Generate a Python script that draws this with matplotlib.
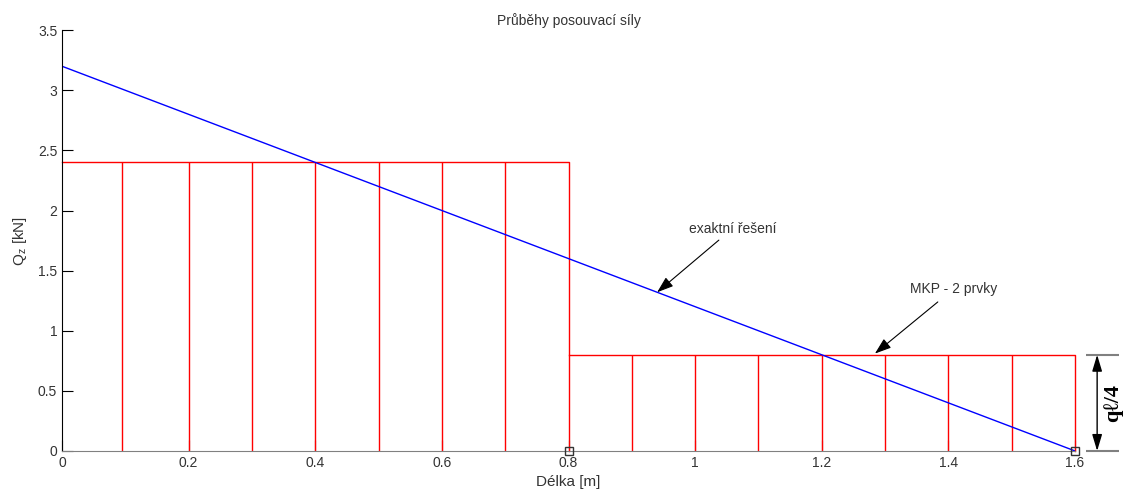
import matplotlib.pyplot as plt
import numpy as np

plt.rcParams['font.family'] = ['Liberation Sans', 'DejaVu Sans']

# exact shear force along the beam
x_exact = [0.0, 1.6]
q_exact = [3.2, 0.0]

# FEM solution, 2 elements, constant shear in each
elem_start = [0.0, 0.8]
elem_end = [0.8, 1.6]
elem_q = [2.4, 0.8]
hatch_x = [[0.095, 0.2, 0.3, 0.4, 0.5, 0.6, 0.7],
           [0.9, 1.0, 1.1, 1.2, 1.3, 1.4, 1.5]]
nodes_x = [0.8, 1.6]

fig = plt.figure(figsize=(11.28, 4.95), dpi=100)
ax = fig.add_axes([0.055, 0.089, 0.898, 0.850])

red = '#ff0000'
for a, b, q, hx in zip(elem_start, elem_end, elem_q, hatch_x):
    ax.plot([a, b, b], [q, q, 0], color=red, lw=1, clip_on=False)
    ax.vlines(hx, 0, q, color=red, lw=1)

ax.plot(x_exact, q_exact, color='#0000ff', lw=1)
ax.plot(nodes_x, [0] * len(nodes_x), 's', mfc='none', mec='#333333', ms=6,
        clip_on=False, zorder=5)

ax.set_xlim(0, 1.6)
ax.set_ylim(0, 3.5)
ax.set_xticks(np.arange(0, 1.61, 0.2))
ax.set_xticklabels(['0', '0.2', '0.4', '0.6', '0.8', '1', '1.2', '1.4', '1.6'])
ax.set_yticks(np.arange(0, 3.51, 0.5))
ax.set_yticklabels(['0', '0.5', '1', '1.5', '2', '2.5', '3', '3.5'])
ax.tick_params(direction='in', length=8, labelsize=10, labelcolor='#333333')
ax.spines['top'].set_visible(False)
ax.spines['right'].set_visible(False)
ax.spines['bottom'].set_color('#808080')

ax.set_title('Průběhy posouvací síly', fontsize=10, color='#333333', pad=4)
ax.set_xlabel('Délka [m]', fontsize=11, color='#333333', labelpad=4)
ax.set_ylabel('Q$_\\mathregular{z}$ [kN]', fontsize=11, color='#333333', labelpad=6)

ax.annotate('exaktní řešení', xy=(0.94, 1.32), xytext=(0.99, 1.85),
            fontsize=10, color='#333333', va='center',
            arrowprops=dict(arrowstyle='-|>,head_length=1.0,head_width=0.35',
                            color='black', lw=0.8, shrinkA=2, shrinkB=0))
ax.annotate('MKP - 2 prvky', xy=(1.284, 0.81), xytext=(1.34, 1.35),
            fontsize=10, color='#333333', va='center',
            arrowprops=dict(arrowstyle='-|>,head_length=1.0,head_width=0.35',
                            color='black', lw=0.8, shrinkA=4, shrinkB=0))

# dimension of the second element's value on the right
ax.hlines([elem_q[1], 0], 1.617, 1.67, color='#808080', lw=1.5, clip_on=False)
ax.annotate('', xy=(1.635, elem_q[1]), xytext=(1.635, 0),
            arrowprops=dict(arrowstyle='<|-|>,head_length=1.0,head_width=0.3',
                            color='black', lw=1, shrinkA=0, shrinkB=0),
            annotation_clip=False)
ax.text(1.66, elem_q[1] / 2, 'qℓ/4', rotation=90, ha='center', va='center',
        fontsize=16, fontweight='bold', family=['Liberation Serif', 'DejaVu Serif'],
        clip_on=False)

plt.savefig('out.png', dpi=100)
